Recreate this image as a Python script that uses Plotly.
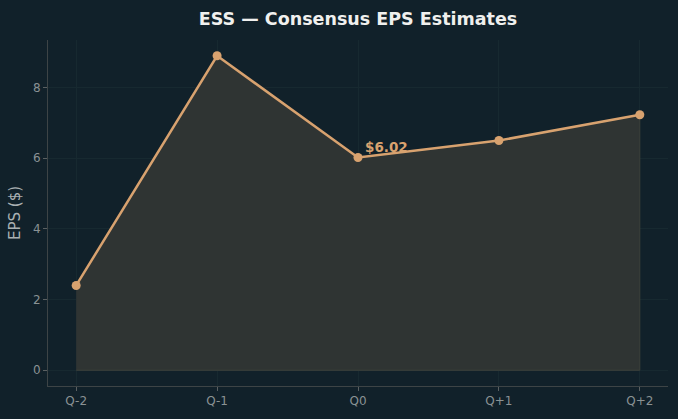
import plotly.graph_objects as go

quarters = ["Q-2", "Q-1", "Q0", "Q+1", "Q+2"]
eps = [2.40, 8.90, 6.02, 6.50, 7.23]
y_ticks = [0, 2, 4, 6, 8]
highlight_idx = 2

xi = list(range(len(quarters)))

BG = "#11212a"
LINE = "#d8a26f"
FILL = "#2f3433"

fig = go.Figure()
fig.add_trace(go.Scatter(
    x=xi + [xi[-1], xi[0]],
    y=eps + [0, 0],
    fill="toself",
    fillcolor=FILL,
    line=dict(color="#3c403b", width=1),
    mode="lines",
    hoverinfo="skip",
    showlegend=False,
))
fig.add_trace(go.Scatter(
    x=xi, y=eps,
    mode="lines+markers",
    line=dict(color=LINE, width=2.5),
    marker=dict(color=LINE, size=9),
    showlegend=False,
))
fig.add_annotation(
    x=xi[highlight_idx], y=eps[highlight_idx],
    text=f"<b>${eps[highlight_idx]:.2f}</b>",
    showarrow=False, xanchor="left", yanchor="middle",
    xshift=5, yshift=11,
    font=dict(family="DejaVu Sans", size=13.5, color=LINE),
)

fig.update_layout(
    width=678, height=419,
    paper_bgcolor=BG, plot_bgcolor=BG,
    margin=dict(l=48, r=10, t=40, b=33),
    font=dict(family="DejaVu Sans", color="#8a9294", size=12),
    title=dict(
        text="<b>ESS — Consensus EPS Estimates</b>",
        x=0.528, xanchor="center", y=0.955, yanchor="middle",
        font=dict(family="DejaVu Sans", size=17.5, color="#f0f0ee"),
    ),
    xaxis=dict(
        range=[-0.2, 4.2],
        tickvals=xi, ticktext=quarters,
        showline=True, linecolor="#3d4446", linewidth=1,
        ticks="outside", ticklen=4, tickcolor="#5a6062",
        showgrid=True, gridcolor="#172930", gridwidth=1,
        zeroline=False, mirror=False,
        tickfont=dict(size=12, color="#8a9294"),
    ),
    yaxis=dict(
        range=[-0.445, 9.345],
        tickvals=y_ticks,
        showline=True, linecolor="#3d4446", linewidth=1,
        ticks="outside", ticklen=4, tickcolor="#5a6062",
        showgrid=True, gridcolor="#172930", gridwidth=1,
        zeroline=False, mirror=False,
        title=dict(text="EPS ($)", font=dict(size=15, color="#a9b0b2"), standoff=8),
        tickfont=dict(size=12, color="#8a9294"),
    ),
)

fig.write_html("out.html")
